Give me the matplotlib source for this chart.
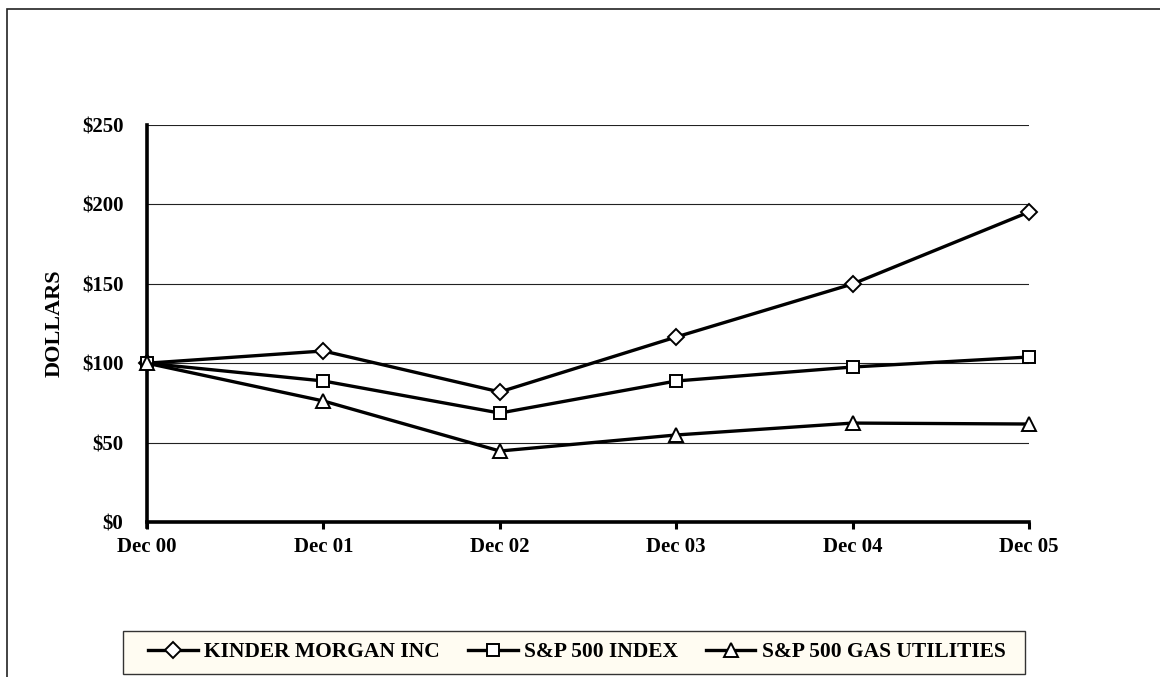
import matplotlib.pyplot as plt
from matplotlib.patches import Rectangle

anos = ["Dec 00", "Dec 01", "Dec 02", "Dec 03", "Dec 04", "Dec 05"]
kinder = [100, 107.7, 81.9, 116.5, 149.9, 195.2]
sp500 = [100, 88.8, 68.6, 88.8, 97.6, 103.9]
gas = [100, 76.2, 44.7, 54.8, 62.3, 61.7]
yticks = [0, 50, 100, 150, 200, 250]

plt.rcParams['font.family'] = ['Liberation Serif', 'DejaVu Serif']
plt.rcParams['font.weight'] = 'bold'

W, H = 1160, 677
fig = plt.figure(figsize=(W / 100, H / 100), dpi=100)

# moldura externa (sai da imagem a direita e embaixo)
fig.patches.append(Rectangle((7 / W, -0.1), 1.2, 1 - 9 / H + 0.1,
                             transform=fig.transFigure, fill=False,
                             edgecolor='#222222', linewidth=1.2))
# caixa da legenda
fig.patches.append(Rectangle((123 / W, (H - 674) / H), (1025 - 123) / W, 43 / H,
                             transform=fig.transFigure, facecolor='#FFFCF2',
                             edgecolor='#333333', linewidth=1.0))

ax = fig.add_axes([147 / W, (H - 522) / H, (1029 - 147) / W, (522 - 125) / H])
x = list(range(len(anos)))

for v in yticks[1:]:
    ax.axhline(v, color='#222222', linewidth=0.8, zorder=1)

estilo = dict(color='black', linewidth=2.4, markersize=10,
              markerfacecolor='white', markeredgecolor='black',
              markeredgewidth=1.4, zorder=3, clip_on=False)
ax.plot(x, kinder, marker='D', label='KINDER MORGAN INC', **{**estilo, 'markersize': 8.5})
ax.plot(x, sp500, marker='s', label='S&P 500 INDEX', **{**estilo, 'markersize': 9})
ax.plot(x, gas, marker='^', label='S&P 500 GAS UTILITIES', **estilo)

ax.set_xlim(0, 5)
ax.set_ylim(0, 250)
ax.set_xticks(x)
ax.set_xticklabels(anos, fontsize=15, fontweight='bold')
ax.set_yticks(yticks)
ax.set_yticklabels([f"${v}" for v in yticks], fontsize=15, fontweight='bold')
ax.tick_params(axis='x', length=5, width=2.2, pad=6)
ax.tick_params(axis='y', length=0, pad=17)
for s in ['top', 'right']:
    ax.spines[s].set_visible(False)
ax.spines['left'].set_linewidth(2.6)
ax.spines['bottom'].set_linewidth(2.6)
ax.spines['left'].set_bounds(-3, 250)
ax.set_ylabel("DOLLARS", fontsize=16, fontweight='bold')
ax.yaxis.set_label_coords(-0.093, 0.5)

leg = fig.legend(loc='center', bbox_to_anchor=(577 / W, 1 - 652 / H), ncol=3,
                 frameon=False, handlelength=2.3, handletextpad=0.3,
                 columnspacing=1.3, borderpad=0.2,
                 prop={'size': 15.5, 'weight': 'bold'})

fig.savefig("out.png", dpi=100)
